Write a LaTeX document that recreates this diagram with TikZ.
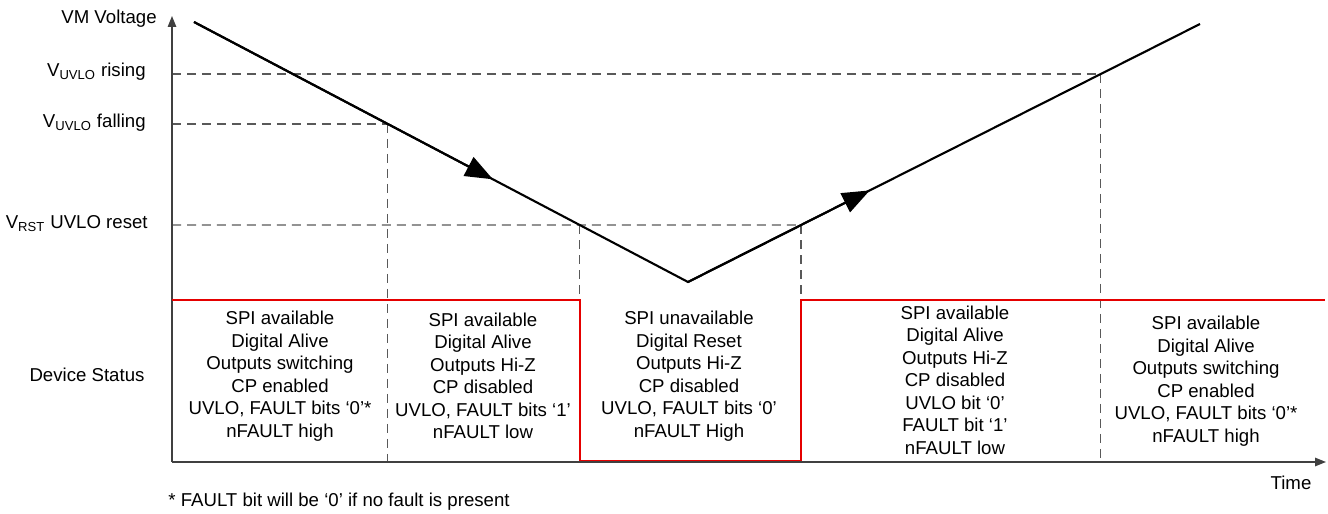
\documentclass[tikz,border=0pt]{standalone}
\usepackage{fontspec}
\setmainfont{Liberation Sans}
\usepackage{tikz}
\usetikzlibrary{calc,arrows.meta}

\begin{document}
\begin{tikzpicture}[
	axis/.style={draw=black!75, line width=0.8pt, -{Triangle[length=0.22cm,width=0.17cm]}},
	guide/.style={draw=black!65, line width=0.7pt, dash pattern=on 0.18cm off 0.12cm},
	vm/.style={draw=black, line width=1.2pt},
	statusline/.style={draw=red!90!black, line width=1.1pt},
	cell/.style={align=center, inner sep=0pt, font=\fontsize{10.6}{12.8}\selectfont},
	lbl/.style={anchor=east, inner sep=0pt, font=\fontsize{10.6}{12.8}\selectfont},
]

	% frame
	\useasboundingbox (-3.44,-1.04) rectangle (23.12,9.24);

	% parameters
	\def\tiplen{0.55cm}
	\def\tipwid{0.42cm}

	% coordinates
	\coordinate (O) at (0,0);
	\coordinate (Ytop) at (0,8.92);
	\coordinate (Xend) at (23.08,0);
	\coordinate (S) at (0.44,8.80);
	\coordinate (M) at (10.32,3.60);
	\coordinate (E) at (20.56,8.76);

	% crossings with the thresholds
	\coordinate (Fall) at ($(S)!0.3923!(M)$);
	\coordinate (RstF) at ($(S)!0.7808!(M)$);
	\coordinate (RstR) at ($(M)!0.2209!(E)$);
	\coordinate (Rise) at ($(M)!0.8062!(E)$);

	% thresholds
	\draw[guide] (O |- Rise) -- (Rise);
	\draw[guide] (O |- Fall) -- (Fall);
	\draw[guide] (O |- RstF) -- (RstR);
	\foreach \p in {Fall,RstF,RstR,Rise} { \draw[guide] (\p) -- (\p |- O); }

	% axes
	\draw[axis] (O) -- (Ytop);
	\draw[axis] (O) -- (Xend);

	% device status
	\coordinate (R0) at (0,3.24);
	\coordinate (R1) at (23.06,3.24);
	\coordinate (Rb) at (0,0.03);
	\draw[statusline] (R0) -- (R0 -| RstF) -- (Rb -| RstF) -- (Rb -| RstR) -- (R0 -| RstR) -- (R1);

	% VM voltage
	\draw[vm] (S) -- (M) -- (E);
	\draw[vm, -{Triangle[length=\tiplen,width=\tipwid]}] (S) -- ($(S)!0.605!(M)$);
	\draw[vm, -{Triangle[length=\tiplen,width=\tipwid]}] (M) -- ($(M)!0.355!(E)$);

	% labels
	\node[lbl] (vm) at (-0.30,8.86) {VM Voltage};
	\node[lbl] (urise) at (-0.52,7.80) {V\textsubscript{UVLO} rising};
	\node[lbl] (ufall) at (-0.52,6.78) {V\textsubscript{UVLO} falling};
	\node[lbl] (rst) at (-0.48,4.76) {V\textsubscript{RST} UVLO reset};
	\node[cell] (dev) at (-1.70,1.74) {Device Status};

	\node[cell] (c1) at (2.16,1.72) {SPI available\\Digital Alive\\Outputs switching\\CP enabled\\UVLO, FAULT bits ‘0’*\\nFAULT high};
	\node[cell] (c2) at (6.22,1.72) {SPI available\\Digital Alive\\Outputs Hi-Z\\CP disabled\\UVLO, FAULT bits ‘1’\\nFAULT low};
	\node[cell] (c3) at (10.34,1.72) {SPI unavailable\\Digital Reset\\Outputs Hi-Z\\CP disabled\\UVLO, FAULT bits ‘0’\\nFAULT High};
	\node[cell] (c4) at (15.66,1.64) {SPI available\\Digital Alive\\Outputs Hi-Z\\CP disabled\\UVLO bit ‘0’\\FAULT bit ‘1’\\nFAULT low};
	\node[cell] (c5) at (20.68,1.62) {SPI available\\Digital Alive\\Outputs switching\\CP enabled\\UVLO, FAULT bits ‘0’*\\nFAULT high};

	\node[cell] (time) at (22.38,-0.42) {Time};
	\node[cell, anchor=west] (note) at (-0.08,-0.80) {* FAULT bit will be ‘0’ if no fault is present};

\end{tikzpicture}
\end{document}
